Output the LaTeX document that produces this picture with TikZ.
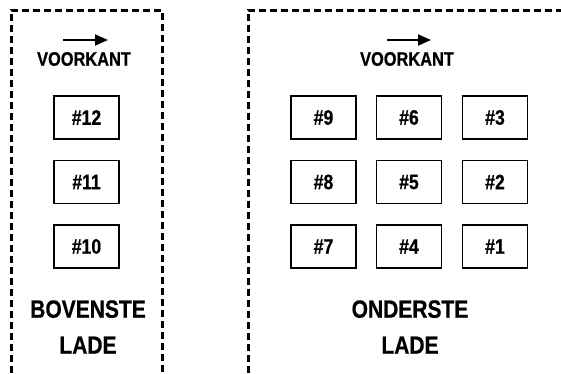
\documentclass[tikz,border=0pt]{standalone}
\usepackage{fontspec}
\setmainfont{Liberation Sans}[
  FakeStretch=0.84,
  BoldFont={Liberation Sans Bold},
  BoldFeatures={FakeStretch=0.84,FakeBold=0.6}]
\usepackage{tikz}
\usetikzlibrary{arrows.meta}

\tikzset{
  kader/.style={line width=3pt, dash pattern=on 7pt off 4pt},
  vak/.style={draw, line width=1.4pt, minimum width=65pt, minimum height=43pt, inner sep=0pt, font=\fontsize{21}{21}\selectfont\bfseries},
  voorkant/.style={font=\fontsize{19.5}{20}\selectfont\bfseries, inner sep=0pt},
  lade/.style={align=center, inner sep=0pt, font=\fontsize{25}{36}\selectfont\bfseries},
  pijl/.style={line width=1.8pt, -{Triangle[length=13pt,width=11pt]}}
}

\begin{document}
\begin{tikzpicture}[x=1pt,y=-1pt]
\useasboundingbox (0,0) rectangle (561,373);
% kaders
\draw[kader] (11,373) -- (11,10) -- (162,10) -- (162,373);
\draw[kader] (248,373) -- (248,10) -- (561,10);
% bovenste lade
\coordinate (pijlLa) at (63,40);
\coordinate (pijlLb) at (108,40);
\draw[pijl] (pijlLa) -- (pijlLb);
\node[voorkant] (voorkantL) at (84,59) {VOORKANT};
\node[vak] (vak12) at (86.5,117.5) {\#12};
\node[vak] (vak11) at (86.5,182) {\#11};
\node[vak] (vak10) at (86.5,246.5) {\#10};
\node[lade] (bovenste) at (88,327) {BOVENSTE\\LADE};
% onderste lade
\coordinate (pijlRa) at (387,40);
\coordinate (pijlRb) at (431,40);
\draw[pijl] (pijlRa) -- (pijlRb);
\node[voorkant] (voorkantR) at (407,59) {VOORKANT};
\node[vak] (vak9) at (323.5,117.5) {\#9};
\node[vak] (vak6) at (409,117.5) {\#6};
\node[vak] (vak3) at (495,117.5) {\#3};
\node[vak] (vak8) at (323.5,182) {\#8};
\node[vak] (vak5) at (409,182) {\#5};
\node[vak] (vak2) at (495,182) {\#2};
\node[vak] (vak7) at (323.5,246.5) {\#7};
\node[vak] (vak4) at (409,246.5) {\#4};
\node[vak] (vak1) at (495,246.5) {\#1};
\node[lade] (onderste) at (410,327) {ONDERSTE\\LADE};
\end{tikzpicture}
\end{document}
